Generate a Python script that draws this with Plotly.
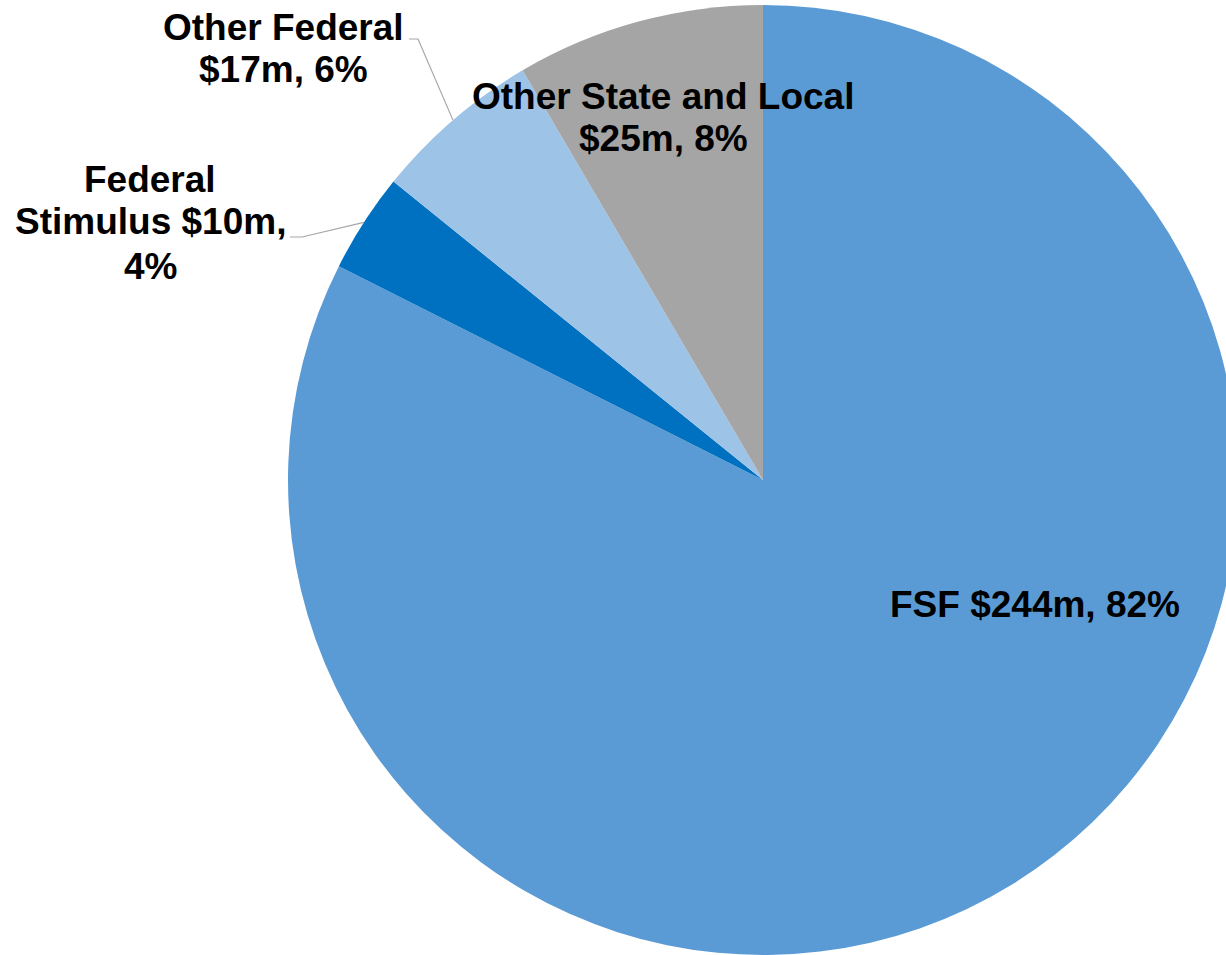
import math
import plotly.graph_objects as go

# ---- data ----
labels = ["FSF", "Federal Stimulus", "Other Federal", "Other State and Local"]
values = [244, 10, 17, 25]            # $ millions
percent_text = ["82%", "4%", "6%", "8%"]
colors = ["#5B9BD5", "#0070C0", "#9DC3E6", "#A5A5A5"]

# ---- layout geometry (pixels) ----
W, H = 1240, 955
CX, CY, R = 763, 480, 475
FONT = dict(family="Arial, Liberation Sans, Arial", size=37, color="#000000")

def px(x):
    return x / W

def py(y):
    return 1 - y / H

fig = go.Figure()
fig.add_trace(go.Pie(
    labels=labels,
    values=values,
    marker=dict(colors=colors, line=dict(width=0)),
    sort=False,
    direction="clockwise",
    rotation=0,
    textinfo="none",
    hoverinfo="skip",
    showlegend=False,
    domain=dict(x=[px(CX - R), px(CX + R)], y=[py(CY + R), py(CY - R)]),
))

# label texts built from data
t = [f"${v}m, {p}" for v, p in zip(values, percent_text)]
label_lines = [
    ([f"{labels[0]} {t[0]}"], 1035, [604]),
    (["Federal", f"Stimulus ${values[1]}m,", percent_text[1]], 150, [180, 222, 266]),
    ([labels[2], t[2]], 283, [27, 69]),
    ([labels[3], t[3]], 663, [97, 139]),
]
for lines, xc, ys in label_lines:
    for line, yc in zip(lines, ys):
        fig.add_annotation(
            text=f"<b>{line}</b>", x=px(xc), y=py(yc), xref="paper", yref="paper",
            xanchor="center", yanchor="middle", showarrow=False, font=FONT,
        )

# leader lines for outside labels, ending at slice mid-angles
total = sum(values)
cum = 0
mids = []
for v in values:
    mids.append((cum + v / 2) / total * 2 * math.pi)
    cum += v

def edge(i):
    a = mids[i]
    return CX + R * math.sin(a), CY - R * math.cos(a)

leaders = [
    (1, [(290, 237), (302, 237)]),
    (2, [(409, 39), (418, 39)]),
]
for i, pts in leaders:
    ex, ey = edge(i)
    pts = pts + [(ex, ey)]
    path = "M " + " L ".join(f"{px(x)},{py(y)}" for x, y in pts)
    fig.add_shape(type="path", path=path, xref="paper", yref="paper",
                  line=dict(color="#A6A6A6", width=1.2))

fig.update_layout(
    width=W, height=H,
    margin=dict(l=0, r=0, t=0, b=0),
    paper_bgcolor="white", plot_bgcolor="white",
)

fig.write_html(
    "out.html",
    config={"displayModeBar": False},
    post_script="document.body.style.margin='0';document.body.style.overflow='hidden';",
)
